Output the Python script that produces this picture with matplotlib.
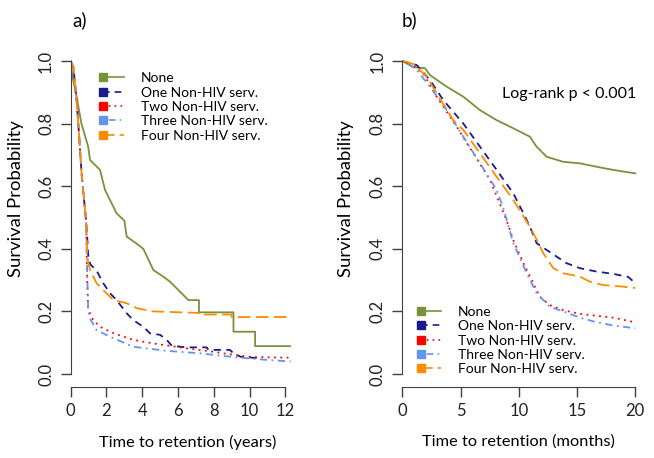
import matplotlib.pyplot as plt
from matplotlib.lines import Line2D
from matplotlib.legend_handler import HandlerLine2D

plt.rcParams.update({
    "font.family": ["Lato", "DejaVu Sans"],
    "font.size": 11,
    "axes.edgecolor": "#404040",
    "xtick.color": "#404040",
    "ytick.color": "#404040",
    "xtick.labelcolor": "#222222",
    "ytick.labelcolor": "#222222",
})

GROUPS = ["None", "One Non-HIV serv.", "Two Non-HIV serv.",
          "Three Non-HIV serv.", "Four Non-HIV serv."]
COLORS = ["#77933C", "#1A1A8C", "#FF0000", "#6495ED", "#FF8C00"]
STYLES = ["-", (0, (4, 3)), (0, (1, 2.5)), (0, (1, 2.5, 4, 2.5)), (0, (7, 3))]

# ---- panel a) time in years ----
a_none_t = [0, 0.1, 0.33, 0.6, 0.98, 1.08, 1.64, 1.92, 2.57, 3.0, 3.13, 3.6, 4.06,
            4.62, 5.18, 5.55, 6.11, 6.58, 7.17, 7.17, 9.1, 9.1, 10.31, 10.31, 12.3]
a_none_s = [1, 0.95, 0.886, 0.80, 0.726, 0.684, 0.652, 0.588, 0.513, 0.49, 0.439, 0.42, 0.40,
            0.332, 0.311, 0.295, 0.263, 0.236, 0.236, 0.197, 0.197, 0.135, 0.135, 0.089, 0.089]
a_early_t = [0, 0.15, 0.33, 0.46, 0.61, 0.8, 0.86]
a_early_s = [1, 0.98, 0.875, 0.77, 0.64, 0.524, 0.49]
a_one_t = a_early_t + [0.93, 0.98, 1.1, 1.45, 1.82, 2.2, 2.57, 3.13, 3.5, 4.06, 4.43, 5.0,
                       5.37, 5.65, 6.49, 7.6, 7.7, 8.9, 9.1, 9.5, 10.6]
a_one_s = a_early_s + [0.43, 0.38, 0.35, 0.33, 0.29, 0.258, 0.236, 0.194, 0.172, 0.151, 0.13, 0.125,
                       0.109, 0.09, 0.085, 0.085, 0.077, 0.077, 0.066, 0.055, 0.05]
a_two_t = a_early_t + [0.92, 0.98, 1.26, 1.64, 2.4, 3.5, 4.8, 6.49, 7.98, 9.1, 10.2, 12.3]
a_two_s = a_early_s + [0.30, 0.205, 0.172, 0.151, 0.13, 0.109, 0.096, 0.082, 0.071, 0.061, 0.054, 0.052]
a_three_t = a_early_t + [0.9, 0.98, 1.1, 1.45, 2.2, 3.5, 5.37, 7.23, 9.1, 10.96, 12.3]
a_three_s = a_early_s + [0.38, 0.2, 0.175, 0.14, 0.119, 0.087, 0.074, 0.066, 0.054, 0.045, 0.04]
a_four_t = a_early_t + [0.93, 0.98, 1.1, 1.45, 2.0, 2.4, 3.13, 3.7, 4.62, 7.2, 7.2, 9.0, 9.0, 12.3]
a_four_s = a_early_s + [0.383, 0.354, 0.33, 0.29, 0.258, 0.236, 0.226, 0.21, 0.2, 0.195, 0.19,
                        0.19, 0.182, 0.182]

# ---- panel b) time in months ----
b_none_t = [0, 0.95, 1.95, 2.38, 3.81, 5.24, 6.67, 8.1, 9.53, 10.96, 11.53, 12.4, 13.8,
            15.25, 16.7, 18.1, 20]
b_none_s = [1, 0.98, 0.977, 0.955, 0.918, 0.886, 0.843, 0.811, 0.785, 0.758, 0.726, 0.694, 0.678,
            0.673, 0.662, 0.652, 0.641]
b_one_t = [0, 1.24, 2.38, 3.52, 5.24, 6.67, 8.1, 9.53, 10.4, 10.96, 11.53, 12.4, 13.25, 14.1,
           15.25, 16.7, 18.1, 19.4, 20]
b_one_s = [1, 0.987, 0.939, 0.875, 0.80, 0.726, 0.652, 0.577, 0.513, 0.47, 0.418, 0.396, 0.375, 0.354,
           0.338, 0.327, 0.32, 0.31, 0.29]
b_two_t = [0, 0.8, 1.8, 2.95, 4.67, 6.1, 7.53, 8.96, 9.53, 10.4, 11.24, 11.8, 12.67, 13.8,
           15.25, 16.7, 18.1, 20]
b_two_s = [1, 0.99, 0.96, 0.886, 0.79, 0.705, 0.62, 0.49, 0.428, 0.354, 0.29, 0.247, 0.22, 0.204,
           0.192, 0.186, 0.18, 0.165]
b_three_t = [0, 0.6, 1.24, 2.38, 3.81, 5.24, 6.67, 8.1, 8.67, 9.53, 10.68, 11.53, 12.67, 13.8,
             15.25, 16.7, 18.1, 20]
b_three_s = [1, 0.99, 0.971, 0.918, 0.843, 0.758, 0.673, 0.588, 0.53, 0.418, 0.322, 0.258, 0.215, 0.2,
             0.18, 0.165, 0.155, 0.146]
b_four_t = [0, 1.0, 2.1, 2.95, 4.38, 5.24, 6.67, 8.1, 9.53, 10.96, 11.53, 12.1, 12.96, 13.8,
            15.25, 16.1, 17.25, 18.7, 20]
b_four_s = [1, 0.99, 0.95, 0.897, 0.811, 0.78, 0.705, 0.63, 0.556, 0.47, 0.43, 0.386, 0.338, 0.322,
            0.311, 0.295, 0.284, 0.28, 0.275]

a_curves = [(a_none_t, a_none_s), (a_one_t, a_one_s), (a_two_t, a_two_s),
            (a_three_t, a_three_s), (a_four_t, a_four_s)]
b_curves = [(b_none_t, b_none_s), (b_one_t, b_one_s), (b_two_t, b_two_s),
            (b_three_t, b_three_s), (b_four_t, b_four_s)]

a_xticks = [0, 2, 4, 6, 8, 10, 12]
b_xticks = [0, 5, 10, 15, 20]
yticks = [0.0, 0.2, 0.4, 0.6, 0.8, 1.0]

W, H = 654, 458
fig = plt.figure(figsize=(W / 100, H / 100), dpi=100)


class LeftMarker(HandlerLine2D):
    # R-style legend key: square at the start, line running to the right
    def create_artists(self, *args, **kwargs):
        arts = super().create_artists(*args, **kwargs)
        for a in arts:
            a.set_markevery([0])
        return arts


def px_axes(x0, x1, y_top, y_bot):
    return fig.add_axes([x0 / W, 1 - y_bot / H, (x1 - x0) / W, (y_bot - y_top) / H])


def style_axes(ax, xmax, xticks, xlabel, xlab_x):
    ax.set_xlim(0, xmax)
    ax.set_ylim(-0.04, 1.04)
    for s in ("top", "right"):
        ax.spines[s].set_visible(False)
    ax.spines["left"].set_bounds(0, 1)
    ax.spines["bottom"].set_bounds(xticks[0], xticks[-1])
    ax.set_xticks(xticks)
    ax.set_yticks(yticks)
    ax.set_yticklabels([f"{v:.1f}" for v in yticks], rotation=90, va="center")
    ax.tick_params(direction="out", length=7, width=1, pad=5, labelsize=12)
    ax.set_xlabel(xlabel, fontsize=11.75)
    ax.set_ylabel("Survival Probability", fontsize=13.3)
    ax.xaxis.set_label_coords(xlab_x, -0.142)
    ax.patch.set_visible(False)


def add_legend(ax, loc, anchor):
    handles = [Line2D([], [], color=c, ls=ls, lw=1.2, marker="s", markersize=6)
               for c, ls in zip(COLORS, STYLES)]
    ax.legend(handles, GROUPS, loc=loc, bbox_to_anchor=anchor,
              handler_map={Line2D: LeftMarker(numpoints=2)},
              frameon=False, handlelength=2.1, handletextpad=0.9,
              labelspacing=0.17, borderpad=0, borderaxespad=0, fontsize=10)


# panel a
axa = px_axes(70.7, 290.7, 48.5, 386.5)
for (t, s), c, ls in zip(a_curves, COLORS, STYLES):
    axa.plot(t, s, color=c, ls=ls, lw=1.3)
style_axes(axa, 12.3, a_xticks, "Time to retention (years)", 0.53)
axa.yaxis.set_label_coords(-0.213, 0.555)
add_legend(axa, "upper left", (0.13, 0.93))

# panel b
axb = px_axes(402.3, 638.8, 48.5, 386.5)
for (t, s), c, ls in zip(b_curves, COLORS, STYLES):
    axb.plot(t, s, color=c, ls=ls, lw=1.3)
style_axes(axb, 20.3, b_xticks, "Time to retention (months)", 0.49)
axb.yaxis.set_label_coords(-0.205, 0.555)
axb.text(0.42, 0.865, "Log-rank p < 0.001", transform=axb.transAxes,
         va="center", ha="left", fontsize=11.5)
add_legend(axb, "lower left", (0.06, 0.033))

fig.text(72 / W, 1 - 20 / H, "a)", fontsize=13.5, va="center", ha="left")
fig.text(402 / W, 1 - 20 / H, "b)", fontsize=13.5, va="center", ha="left")

fig.savefig("out.png", dpi=100)
